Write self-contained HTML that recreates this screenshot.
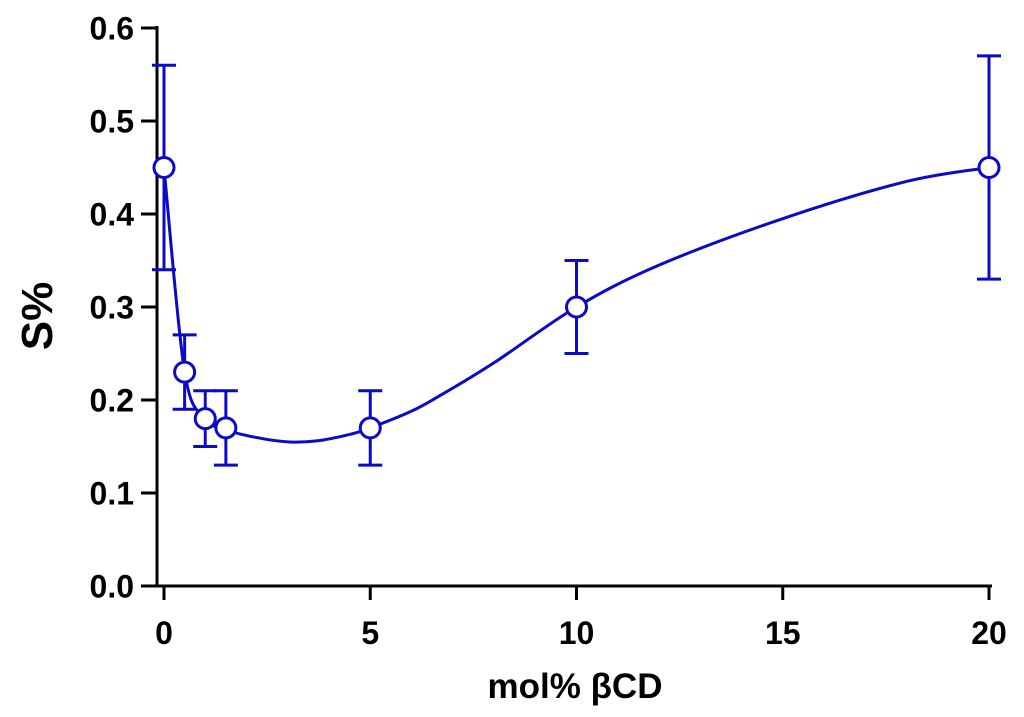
<!DOCTYPE html>
<html><head><meta charset="utf-8"><style>
body{margin:0;background:#fff}
svg{display:block;font-family:"Liberation Sans",Arial,sans-serif;font-weight:bold}
</style></head><body>
<svg id="chart" width="1024" height="717" viewBox="0 0 1024 717"></svg>
<script>
const xVals=[0,0.5,1,1.5,5,10,20];
const yVals=[0.45,0.23,0.18,0.17,0.17,0.30,0.45];
const yUpper=[0.56,0.27,0.21,0.21,0.21,0.35,0.57];
const yLower=[0.34,0.19,0.15,0.13,0.13,0.25,0.33];
const fitX=[0,0.5,1,1.5,2.2,3,3.7,4.5,5,6,6.7,8,10,12,15,18,20];
const fitY=[0.45,0.23,0.18,0.168,0.16,0.155,0.156,0.163,0.17,0.188,0.205,0.24,0.30,0.345,0.395,0.435,0.45];
const xTicks=[0,5,10,15,20];
const yTicks=[0.0,0.1,0.2,0.3,0.4,0.5,0.6];
const C='#0a0ac8';
const sx=v=>164+v*41.25;
const sy=v=>586-v*930;
const svg=document.getElementById('chart');
const NS='http://www.w3.org/2000/svg';
function mk(t,a,p){const e=document.createElementNS(NS,t);for(const k in a)e.setAttribute(k,a[k]);(p||svg).appendChild(e);return e;}
let ya=mk('line',{x1:157,y1:26,x2:157,y2:587,stroke:'#000','stroke-width':3});


let xa=mk('line',{x1:156,y1:586,x2:992,y2:586,stroke:'#000','stroke-width':3});


yTicks.forEach(v=>{
 mk('line',{x1:141,y1:sy(v),x2:157,y2:sy(v),stroke:'#000','stroke-width':3});
 const t=mk('text',{x:134,y:sy(v)+11.5,'text-anchor':'end','font-size':32});
 t.textContent=v.toFixed(1);
 
 
});
xTicks.forEach(v=>{
 mk('line',{x1:sx(v),y1:586,x2:sx(v),y2:600,stroke:'#000','stroke-width':3});
 const t=mk('text',{x:sx(v),y:644,'text-anchor':'middle','font-size':32});
 t.textContent=v;
 
 
});
const yt=mk('text',{x:0,y:0,'text-anchor':'middle','font-size':44,transform:'translate(52,316) rotate(-90)'});
yt.textContent='S%';


const xt=mk('text',{x:575,y:698,'text-anchor':'middle','font-size':35});
xt.textContent='mol% βCD';


const P=fitX.map((x,i)=>[sx(x),sy(fitY[i])]);
let d='M'+P[0][0]+','+P[0][1];
for(let i=0;i<P.length-1;i++){const p0=P[i-1]||P[i],p1=P[i],p2=P[i+1],p3=P[i+2]||p2;
 d+=` C${p1[0]+(p2[0]-p0[0])/6},${p1[1]+(p2[1]-p0[1])/6} ${p2[0]-(p3[0]-p1[0])/6},${p2[1]-(p3[1]-p1[1])/6} ${p2[0]},${p2[1]}`;}
const fc=mk('path',{d:d,fill:'none',stroke:C,'stroke-width':3});


xVals.forEach((x,i)=>{
 const g=mk('g',{});
 
 
 const X=sx(x);
 mk('line',{x1:X,y1:sy(yUpper[i]),x2:X,y2:sy(yLower[i]),stroke:C,'stroke-width':3},g);
 mk('line',{x1:X-12,y1:sy(yUpper[i]),x2:X+12,y2:sy(yUpper[i]),stroke:C,'stroke-width':3},g);
 mk('line',{x1:X-12,y1:sy(yLower[i]),x2:X+12,y2:sy(yLower[i]),stroke:C,'stroke-width':3},g);
});
xVals.forEach((x,i)=>{
 const c=mk('circle',{cx:sx(x),cy:sy(yVals[i]),r:10,fill:'#fff',stroke:C,'stroke-width':3});
 
 
});
</script>
</body></html>
